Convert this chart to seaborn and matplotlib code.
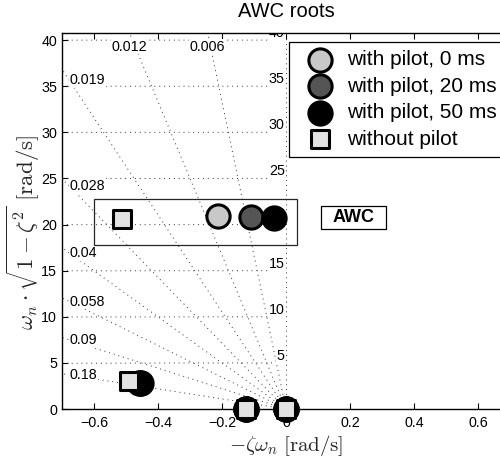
import numpy as np
import matplotlib
matplotlib.use("Agg")
import matplotlib.pyplot as plt
from matplotlib.patches import Rectangle
import seaborn as sns

# Closed-loop root locations for each configuration (real part, damped frequency)
series_names = ["with pilot, 0 ms", "with pilot, 20 ms", "with pilot, 50 ms", "without pilot"]
x_pilot_0 = [-0.212, -0.460, -0.125, 0.0]
y_pilot_0 = [20.92, 2.85, 0.0, 0.0]
x_pilot_20 = [-0.110, -0.457, -0.125, 0.0]
y_pilot_20 = [20.85, 2.85, 0.0, 0.0]
x_pilot_50 = [-0.0375, -0.453, -0.125, 0.0]
y_pilot_50 = [20.67, 2.85, 0.0, 0.0]
x_no_pilot = [-0.513, -0.490, -0.125, 0.0]
y_no_pilot = [20.56, 3.04, 0.0, 0.0]

# s-plane grid: constant damping rays and constant natural-frequency arcs
zeta_values = [0.18, 0.09, 0.058, 0.04, 0.028, 0.019, 0.012, 0.006]
zeta_labels = ["0.18", "0.09", "0.058", "0.04", "0.028", "0.019", "0.012", "0.006"]
wn_values = [5, 10, 15, 20, 25, 30, 35, 40]
wn_labels = ["5", "10", "15", "20", "25", "30", "35", "40"]

x_ticks = [-0.6, -0.4, -0.2, 0.0, 0.2, 0.4, 0.6]
x_tick_labels = ["\u22120.6", "\u22120.4", "\u22120.2", "0", "0.2", "0.4", "0.6"]
y_ticks = [0, 5, 10, 15, 20, 25, 30, 35, 40]
y_tick_labels = ["0", "5", "10", "15", "20", "25", "30", "35", "40"]

sns.set_theme(style="white")
plt.rcParams["font.family"] = ["Liberation Sans", "DejaVu Sans"]
plt.rcParams["mathtext.fontset"] = "cm"
plt.rcParams["axes.edgecolor"] = "black"
plt.rcParams["axes.linewidth"] = 1.0
plt.rcParams["text.color"] = "black"

XMIN, XMAX, YMIN, YMAX = -0.7, 0.7, 0.0, 40.8

fig = plt.figure(figsize=(5.0, 4.59), dpi=100)
ax = fig.add_axes([0.124, 0.1089, 0.896, 0.8198])
ax.set_xlim(XMIN, XMAX)
ax.set_ylim(YMIN, YMAX)

# dotted grid
grid_kw = dict(color="0.2", lw=0.7, linestyle=(0, (1, 4)), zorder=1)
arc_x = np.linspace(XMIN, 0.0, 300)
for wn in wn_values:
    ax.plot(arc_x, np.sqrt(wn ** 2 - arc_x ** 2), **grid_kw)
ax.plot([0.0, 0.0], [0.0, 60.0], **grid_kw)
for z in zeta_values:
    ax.plot([0.0, -60.0 * z], [0.0, 60.0 * np.sqrt(1 - z ** 2)], **grid_kw)

label_bg = dict(facecolor="white", edgecolor="none", pad=0.6)
x_edge = -0.677
for z, lab in zip(zeta_values, zeta_labels):
    s = np.sqrt(1 - z ** 2)
    y_edge = -x_edge * s / z
    if y_edge < 38:
        ax.text(x_edge, y_edge, lab, ha="left", va="center", fontsize=10.3,
                bbox=label_bg, zorder=1.5)
    else:
        ax.text(-YMAX * z / s, 39.3, lab, ha="center", va="center", fontsize=10.3,
                bbox=label_bg, zorder=1.5)
for wn, lab in zip(wn_values, wn_labels):
    ax.text(-0.004, wn, lab, ha="right", va="bottom", fontsize=10.3,
            bbox=label_bg, zorder=1.5, clip_on=True)

# root markers
specs = [
    (x_pilot_0, y_pilot_0, "o", "#c8c8c8", 280),
    (x_pilot_20, y_pilot_20, "o", "#555555", 280),
    (x_pilot_50, y_pilot_50, "o", "#000000", 280),
    (x_no_pilot, y_no_pilot, "s", "#e2e2e2", 150),
]
for name, (xs, ys, mk, fc, size) in zip(series_names, specs):
    sns.scatterplot(x=xs, y=ys, marker=mk, s=size, color=fc, edgecolor="black",
                    linewidth=2.2, ax=ax, label=name, zorder=3, clip_on=False)

# highlight frame around the AWC mode
ax.add_patch(Rectangle((-0.599, 17.78), 0.6345, 4.95, fill=False,
                       edgecolor="0.15", lw=0.9, zorder=2))
ax.add_patch(Rectangle((0.108, 19.49), 0.204, 2.5, facecolor="white",
                       edgecolor="black", lw=0.9, zorder=2))
ax.text(0.21, 20.74, "AWC", ha="center", va="center", fontsize=13,
        fontweight="bold", zorder=2.5)

ax.set_xticks(x_ticks)
ax.set_xticklabels(x_tick_labels)
ax.set_yticks(y_ticks)
ax.set_yticklabels(y_tick_labels)
ax.tick_params(axis="both", direction="in", length=4, width=0.8, colors="black",
               labelsize=10.3, bottom=True, top=True, left=True, right=True)
ax.tick_params(axis="x", pad=5)
ax.tick_params(axis="y", pad=3.5)

ax.set_title("AWC roots", fontsize=14.5, pad=11)
ax.set_xlabel(r"$-\zeta\omega_n\ \mathrm{[rad/s]}$", fontsize=15, va="center")
ax.xaxis.set_label_coords(0.5, (409 - 445) / 376.3)
ax.set_ylabel(r"$\omega_n \cdot \sqrt{1-\zeta^2}\ \mathrm{[rad/s]}$", fontsize=16.5,
              va="center")
ax.yaxis.set_label_coords((23.5 - 62) / 448, 0.47)

leg = ax.legend(loc="upper left", bbox_to_anchor=(289 / 500, 1 - 41.7 / 459),
                bbox_transform=fig.transFigure, borderaxespad=0, fontsize=15,
                frameon=True, fancybox=False, framealpha=1, edgecolor="black",
                borderpad=0.4, handlelength=2.18, handletextpad=0.2,
                labelspacing=0.36, scatterpoints=1)
leg.get_frame().set_linewidth(0.9)
leg.set_zorder(5)

fig.savefig("out.png", dpi=100)
